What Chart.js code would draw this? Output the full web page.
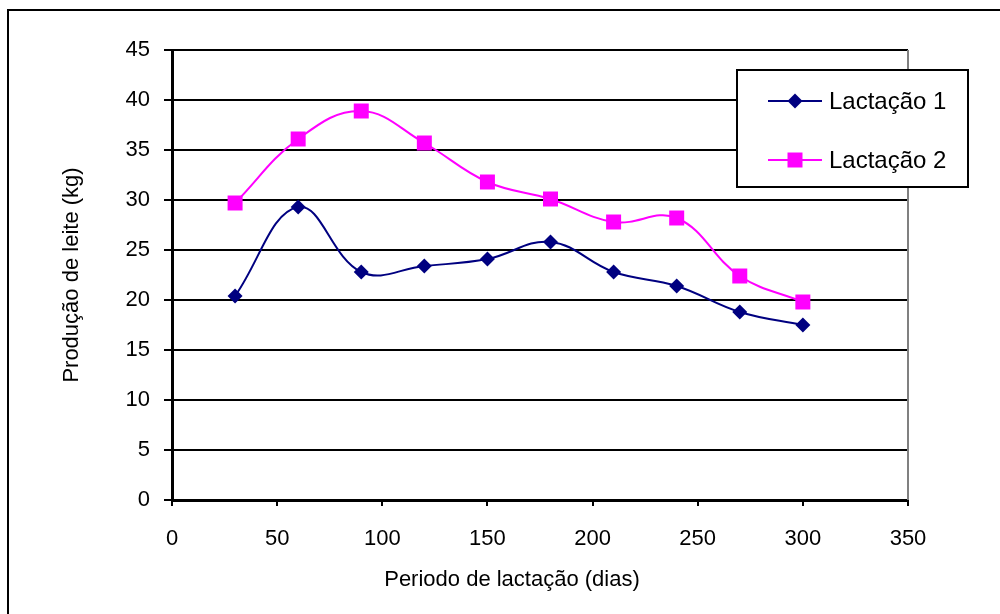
<!DOCTYPE html>
<html>
<head>
<meta charset="utf-8">
<script src="https://cdn.jsdelivr.net/npm/chart.js@4/dist/chart.umd.min.js"></script>
<style>
html,body{margin:0;padding:0;background:#fff;}
#wrap{position:relative;width:1000px;height:614px;}
</style>
</head>
<body>
<div id="wrap"><canvas id="c" width="1000" height="614"></canvas></div>
<script>
const days = [30, 60, 90, 120, 150, 180, 210, 240, 270, 300];
const lactacao1 = [20.4, 29.3, 22.8, 23.4, 24.1, 25.8, 22.8, 21.4, 18.8, 17.5];
const lactacao2 = [29.7, 36.1, 38.9, 35.7, 31.8, 30.1, 27.8, 28.2, 22.4, 19.8];
const seriesNames = ['Lactação 1', 'Lactação 2'];
const xTitle = 'Periodo de lactação (dias)';
const yTitle = 'Produção de leite (kg)';

const FONT = "'Liberation Sans', Arial, sans-serif";
const toXY = (arr) => days.map((d, i) => ({x: d, y: arr[i]}));

const framePlugin = {
  id: 'frame',
  beforeDraw(chart) {
    const ctx = chart.ctx;
    ctx.save();
    ctx.fillStyle = '#fff';
    ctx.fillRect(0, 0, chart.width, chart.height);
    ctx.strokeStyle = '#000';
    ctx.lineWidth = 2;
    ctx.strokeRect(8, 10, 1100, 800);
    ctx.restore();
  },
  beforeDatasetsDraw(chart) {
    const ctx = chart.ctx, a = chart.chartArea;
    ctx.save();
    ctx.strokeStyle = '#808080';
    ctx.lineWidth = 2;
    ctx.beginPath();
    ctx.moveTo(a.right, a.top);
    ctx.lineTo(a.right, a.bottom);
    ctx.stroke();
    ctx.restore();
  },
  afterDraw(chart) {
    const ctx = chart.ctx;
    ctx.save();
    // x-axis title
    ctx.fillStyle = '#000';
    ctx.font = '22px ' + FONT;
    ctx.textAlign = 'center';
    ctx.textBaseline = 'middle';
    ctx.fillText(xTitle, 512, 580);
    // legend
    ctx.fillStyle = '#fff';
    ctx.fillRect(737, 70, 231, 117);
    ctx.strokeStyle = '#000';
    ctx.lineWidth = 2;
    ctx.strokeRect(737, 70, 231, 117);
    const rows = [101, 160];
    chart.data.datasets.forEach((ds, i) => {
      const y = rows[i];
      ctx.strokeStyle = ds.borderColor;
      ctx.lineWidth = 2;
      ctx.beginPath();
      ctx.moveTo(768, y);
      ctx.lineTo(822, y);
      ctx.stroke();
      ctx.fillStyle = ds.pointBackgroundColor;
      ctx.beginPath();
      const r = ds.pointRadius;
      if (ds.pointStyle === 'rectRot') {
        ctx.moveTo(795 - r, y); ctx.lineTo(795, y - r); ctx.lineTo(795 + r, y); ctx.lineTo(795, y + r);
      } else {
        const s = Math.SQRT1_2 * r;
        ctx.rect(795 - s, y - s, 2 * s, 2 * s);
      }
      ctx.closePath();
      ctx.fill();
      ctx.fillStyle = '#000';
      ctx.font = '24px ' + FONT;
      ctx.textBaseline = 'middle';
      ctx.textAlign = 'left';
      ctx.fillText(ds.label, 829, y + 1);
    });
    ctx.restore();
  }
};

function zeroPad(scale) {
  scale.paddingTop = 0; scale.paddingBottom = 0;
  scale.paddingLeft = 0; scale.paddingRight = 0;
}

new Chart(document.getElementById('c'), {
  type: 'line',
  data: {
    datasets: [
      {
        label: seriesNames[0],
        data: toXY(lactacao1),
        borderColor: '#000080',
        backgroundColor: '#000080',
        pointBackgroundColor: '#000080',
        pointBorderColor: '#000080',
        pointStyle: 'rectRot',
        pointRadius: 7.5,
        pointBorderWidth: 0,
        borderWidth: 2,
        tension: 0.4
      },
      {
        label: seriesNames[1],
        data: toXY(lactacao2),
        borderColor: '#FF00FF',
        backgroundColor: '#FF00FF',
        pointBackgroundColor: '#FF00FF',
        pointBorderColor: '#FF00FF',
        pointStyle: 'rect',
        pointRadius: 10.6,
        pointBorderWidth: 0,
        borderWidth: 2,
        tension: 0.4
      }
    ]
  },
  options: {
    responsive: false,
    animation: false,
    layout: {padding: {left: 0, top: 50, right: 92, bottom: 0}},
    plugins: {legend: {display: false}, tooltip: {enabled: false}},
    scales: {
      x: {
        type: 'linear',
        min: 0, max: 350,
        ticks: {stepSize: 50, color: '#000', font: {family: FONT, size: 22}, padding: 20, maxRotation: 0},
        grid: {drawOnChartArea: false, drawTicks: true, tickLength: 6, color: '#000', lineWidth: 2},
        border: {color: '#000', width: 3},
        title: {display: false, text: xTitle},
        afterFit(s) { s.height = 114; zeroPad(s); }
      },
      y: {
        min: 0, max: 45,
        ticks: {stepSize: 5, color: '#000', font: {family: FONT, size: 22}, padding: 14},
        grid: {color: '#000', lineWidth: 2, drawTicks: true, tickLength: 8},
        border: {color: '#000', width: 3},
        title: {display: true, text: yTitle, color: '#000', font: {family: FONT, size: 22}, padding: {top: 59, bottom: 0}},
        afterFit(s) { s.width = 172; zeroPad(s); }
      }
    }
  },
  plugins: [framePlugin]
});
</script>
</body>
</html>
